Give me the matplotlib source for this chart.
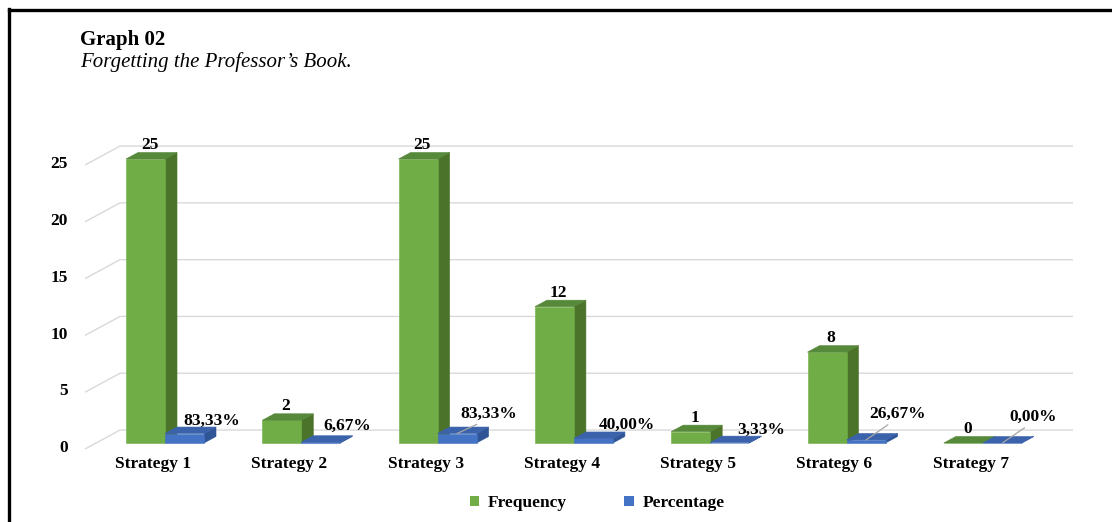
import matplotlib
matplotlib.use("Agg")
import matplotlib.pyplot as plt
from matplotlib.patches import Polygon, Patch
from matplotlib.lines import Line2D
from matplotlib.font_manager import FontProperties

# ---- data -------------------------------------------------------------
categories = ["Strategy 1", "Strategy 2", "Strategy 3", "Strategy 4",
              "Strategy 5", "Strategy 6", "Strategy 7"]
frequency = [25, 2, 25, 12, 1, 8, 0]
percentage = [0.8333, 0.0667, 0.8333, 0.40, 0.0333, 0.2667, 0.0]
percentage_labels = ["83,33%", "6,67%", "83,33%", "40,00%", "3,33%", "26,67%", "0,00%"]
y_ticks = [0, 5, 10, 15, 20, 25]

# ---- styling ----------------------------------------------------------
SERIF = ["Liberation Serif", "DejaVu Serif"]
GREEN = ("#70AD47", "#4B7329", "#56893A")   # front, side, top
BLUE = ("#4472C4", "#2F5597", "#3B63AC")
GRID = "#D9D9D9"
LEADER = "#A6A6A6"
FS = 12.5

W, H, DPI = 1112, 522, 100
PX_X = 136.3    # pixels per category step
PX_Y = 11.36    # pixels per value unit
X0, Y0 = 165, 443

BAR_W = 39 / PX_X
DEPTH_DX, DEPTH_DY = 12 / PX_X, 6.5 / PX_Y

# pixel offsets (right, up) of the percentage labels from the bar top
pct_offsets = [(27, 13), (26, 16), (32, 20), (33, 14), (31, 13), (31, 26), (31, 26)]
pct_leader = [False, False, True, False, False, True, True]

fig = plt.figure(figsize=(W / DPI, H / DPI), dpi=DPI)
ax = fig.add_axes([0, 0, 1, 1])
ax.set_xlim(-X0 / PX_X, (W - X0) / PX_X)
ax.set_ylim(-(H - Y0) / PX_Y, Y0 / PX_Y)
ax.axis("off")

# back wall gridlines with their slanted side-wall segment
gx_front, gx_back, gx_end = (85 - X0) / PX_X, (120 - X0) / PX_X, (1073 - X0) / PX_X
for v in y_ticks:
    ax.plot([gx_front, gx_back, gx_end], [v - 0.53, v + 1.14, v + 1.14],
            color=GRID, lw=1.0, zorder=1, solid_capstyle="butt")
    ax.text((68 - X0) / PX_X, v - 0.45, str(v), ha="right", va="center",
            family=SERIF, fontweight="bold", fontsize=FS, color="#000000")


def bar3d(x0, h, colors, z):
    front, side, top = colors
    x1 = x0 + BAR_W
    dx, dy = DEPTH_DX, DEPTH_DY
    kw = dict(closed=True, lw=0.4, zorder=z)
    ax.add_patch(Polygon([(x1, 0), (x1 + dx, dy), (x1 + dx, h + dy), (x1, h)],
                         fc=side, ec=side, **kw))
    ax.add_patch(Polygon([(x0, 0), (x1, 0), (x1, h), (x0, h)],
                         fc=front, ec=front, **kw))
    ax.add_patch(Polygon([(x0, h), (x1, h), (x1 + dx, h + dy), (x0 + dx, h + dy)],
                         fc=top, ec=top, **kw))


label_font = dict(family=SERIF, fontweight="bold", fontsize=FS, color="#000000")

for i, (cat, f, p, plab) in enumerate(zip(categories, frequency, percentage, percentage_labels)):
    z = 10 + 2 * i
    bar3d(i - BAR_W, f, GREEN, z)
    bar3d(i, p, BLUE, z + 1)

    ax.annotate(str(f), xy=(i - BAR_W / 2 + DEPTH_DX / 3, f), xytext=(0, 14),
                textcoords="offset pixels", ha="center", va="center",
                zorder=40, **label_font)

    ox, oy = pct_offsets[i]
    arrow = None
    if pct_leader[i]:
        arrow = dict(arrowstyle="-", color=LEADER, lw=0.9, shrinkA=0, shrinkB=0,
                     relpos=(0.45, 0.1))
    ax.annotate(plab, xy=(i + BAR_W / 2, p), xytext=(ox, oy),
                textcoords="offset pixels", ha="center", va="center",
                arrowprops=arrow, zorder=40, **label_font)

    ax.text(i - 12 / PX_X, -1.85, cat, ha="center", va="center", **label_font)

# title block
fig.text(80 / W, 1 - 40 / H, "Graph 02", ha="left", va="center",
         family=SERIF, fontweight="bold", fontsize=15)
fig.text(80 / W, 1 - 62 / H, "Forgetting the Professor\u2019s Book.", ha="left", va="center",
         family=SERIF, fontstyle="italic", fontsize=15)

# legend
handles = [Patch(fc=GREEN[0], ec="none"), Patch(fc=BLUE[0], ec="none")]
fig.legend(handles, ["Frequency", "Percentage"], loc="center",
           bbox_to_anchor=(597 / W, 1 - 503 / H), ncol=2, frameon=False,
           handlelength=0.55, handleheight=0.55, handletextpad=0.5, columnspacing=3.3,
           prop=FontProperties(family=SERIF, weight="bold", size=FS))

# page frame (left and top rules)
fig.add_artist(Line2D([8.5 / W, 8.5 / W], [0, 1 - 9 / H], color="black", lw=2.4,
                      transform=fig.transFigure, solid_capstyle="projecting"))
fig.add_artist(Line2D([8.5 / W, 1], [1 - 9.5 / H, 1 - 9.5 / H], color="black", lw=2.4,
                      transform=fig.transFigure, solid_capstyle="projecting"))

fig.savefig("out.png", dpi=DPI, facecolor="white")
